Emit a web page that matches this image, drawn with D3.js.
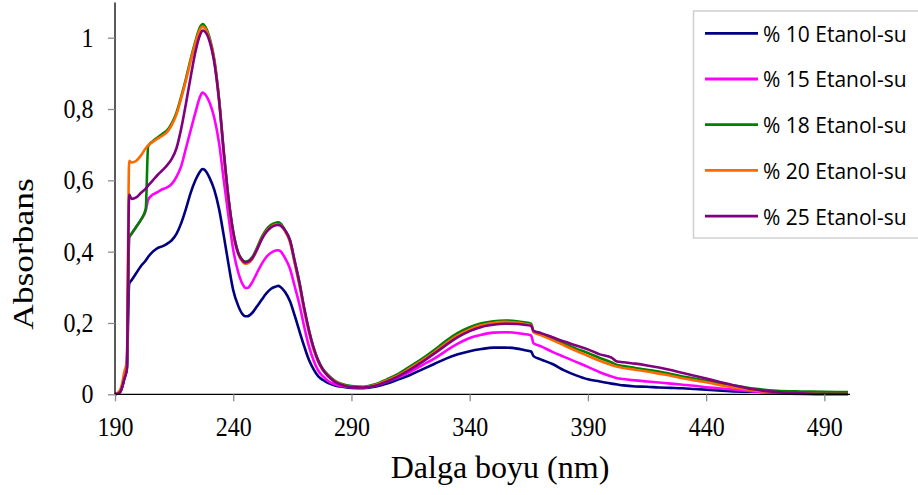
<!DOCTYPE html>
<html><head><meta charset="utf-8">
<script src="https://cdn.jsdelivr.net/npm/d3@7"></script>
<style>html,body{margin:0;padding:0;background:#fff;}svg{display:block;}</style>
</head><body>
<svg id="chart" width="918" height="495"></svg>
<script>
const wavelengths = [190,192,193,194,195,196,197,199,201,203,204,206,208,210,212,214,216,218,220,222,224,226,227,228,230,232,234,236,238,240,242,244,245,246,248,250,252,254,256,258,259,260,262,264,266,268,270,272,274,276,278,280,283,286,290,295,300,305,310,315,320,325,330,335,340,345,350,355,360,363,366,367,370,375,380,385,390,395,400,402,405,410,415,420,425,430,435,440,445,450,460,470,480,490,500];

const et10 = [0,0.005,0.02,0.045,0.07,0.31,0.32,0.34,0.36,0.375,0.385,0.40,0.41,0.415,0.422,0.432,0.45,0.48,0.52,0.565,0.60,0.625,0.632,0.629,0.607,0.573,0.52,0.445,0.365,0.292,0.25,0.224,0.219,0.219,0.228,0.246,0.265,0.283,0.296,0.302,0.304,0.301,0.286,0.261,0.221,0.177,0.135,0.097,0.07,0.05,0.04,0.032,0.025,0.021,0.018,0.017,0.021,0.030,0.042,0.055,0.07,0.085,0.10,0.112,0.121,0.127,0.131,0.131,0.128,0.124,0.12,0.107,0.098,0.085,0.067,0.053,0.042,0.036,0.03,0.028,0.025,0.022,0.021,0.019,0.018,0.017,0.015,0.013,0.011,0.009,0.007,0.006,0.005,0.005,0.005];

const et15 = [0,0.005,0.02,0.05,0.075,0.44,0.45,0.47,0.49,0.515,0.545,0.56,0.567,0.575,0.58,0.59,0.61,0.64,0.69,0.74,0.79,0.835,0.846,0.842,0.818,0.775,0.705,0.60,0.50,0.405,0.345,0.308,0.299,0.298,0.314,0.34,0.365,0.385,0.397,0.403,0.404,0.401,0.381,0.352,0.303,0.252,0.19,0.135,0.095,0.066,0.05,0.038,0.028,0.023,0.020,0.019,0.024,0.035,0.048,0.064,0.082,0.100,0.122,0.142,0.158,0.167,0.173,0.174,0.172,0.169,0.165,0.143,0.135,0.119,0.105,0.091,0.077,0.062,0.050,0.046,0.043,0.039,0.036,0.033,0.030,0.027,0.024,0.020,0.017,0.014,0.008,0.004,0.001,0,0];

const et18 = [0,0.005,0.02,0.05,0.075,0.44,0.45,0.47,0.49,0.52,0.695,0.71,0.72,0.73,0.74,0.76,0.79,0.835,0.885,0.94,0.99,1.03,1.038,1.033,1.00,0.94,0.83,0.68,0.55,0.455,0.40,0.376,0.372,0.373,0.384,0.41,0.44,0.462,0.475,0.481,0.482,0.479,0.459,0.432,0.372,0.315,0.24,0.18,0.13,0.095,0.07,0.055,0.038,0.029,0.023,0.021,0.028,0.042,0.058,0.079,0.10,0.124,0.150,0.172,0.188,0.199,0.205,0.207,0.205,0.202,0.198,0.177,0.170,0.157,0.142,0.128,0.116,0.102,0.089,0.083,0.079,0.074,0.069,0.064,0.057,0.050,0.044,0.038,0.032,0.027,0.016,0.010,0.008,0.007,0.006];

const et20 = [0,0.01,0.03,0.065,0.09,0.655,0.65,0.655,0.67,0.69,0.698,0.708,0.717,0.725,0.735,0.755,0.785,0.83,0.88,0.935,0.985,1.024,1.031,1.027,0.995,0.935,0.825,0.675,0.545,0.45,0.395,0.371,0.366,0.367,0.379,0.405,0.435,0.457,0.47,0.476,0.477,0.474,0.456,0.427,0.367,0.305,0.235,0.175,0.125,0.09,0.067,0.052,0.036,0.027,0.021,0.020,0.026,0.039,0.054,0.074,0.095,0.118,0.143,0.165,0.182,0.194,0.200,0.203,0.201,0.198,0.194,0.174,0.166,0.152,0.137,0.122,0.108,0.094,0.082,0.078,0.074,0.069,0.064,0.058,0.052,0.045,0.039,0.034,0.027,0.021,0.011,0.005,0.002,0.001,0.001];

const et25 = [0,0.005,0.02,0.045,0.07,0.56,0.548,0.552,0.565,0.577,0.585,0.60,0.615,0.628,0.642,0.66,0.69,0.745,0.815,0.89,0.96,1.008,1.02,1.017,0.99,0.93,0.825,0.68,0.55,0.455,0.398,0.375,0.37,0.371,0.381,0.405,0.434,0.455,0.468,0.474,0.475,0.473,0.459,0.432,0.374,0.312,0.243,0.18,0.13,0.093,0.068,0.052,0.035,0.026,0.020,0.019,0.024,0.036,0.051,0.07,0.091,0.114,0.138,0.16,0.177,0.189,0.195,0.198,0.197,0.195,0.192,0.178,0.172,0.16,0.148,0.137,0.126,0.112,0.103,0.093,0.09,0.086,0.081,0.075,0.068,0.060,0.052,0.044,0.036,0.028,0.014,0.006,0.003,0.001,0.001];

const seriesNames = ["% 10 Etanol-su","% 15 Etanol-su","% 18 Etanol-su","% 20 Etanol-su","% 25 Etanol-su"];
const seriesColors = ["#000080","#FF00FF","#008000","#FF6A00","#800080"];
const seriesValues = [et10, et15, et18, et20, et25];

const xTickValues = [190,240,290,340,390,440,490];
const yTickValues = [0,0.2,0.4,0.6,0.8,1];
const yTickLabels = ["0","0,2","0,4","0,6","0,8","1"];

(function(){
const svg = d3.select("#chart");
svg.append("rect").attr("width",918).attr("height",495).attr("fill","#fff");

const pLeft = 115, pRight = 848, pTop = 2.5, pBottom = 394.3;
const x = d3.scaleLinear().domain([190,500]).range([pLeft,pRight]);
const y = d3.scaleLinear().domain([0,1.1]).range([pBottom, pBottom - 1.1*356.6]);

const line = d3.line().x(d=>x(d[0])).y(d=>y(d[1])).curve(d3.curveMonotoneX);
seriesValues.forEach((vals,i)=>{
  const pts = wavelengths.map((w,j)=>[w, vals[j]]);
  svg.append("path").datum(pts).attr("d",line)
    .attr("fill","none").attr("stroke",seriesColors[i])
    .attr("stroke-width",2.6).attr("stroke-linejoin","round");
});

const xAxis = svg.append("g").attr("transform",`translate(0,${pBottom})`)
  .call(d3.axisBottom(x).tickValues(xTickValues).tickSize(7).tickSizeOuter(0).tickFormat(d3.format("d")));
xAxis.select(".domain").attr("stroke","#000").attr("stroke-width",1.3).attr("d",`M${pLeft},0H${pRight+2}`);
xAxis.selectAll(".tick line").attr("stroke","#8c8c8c").attr("stroke-width",1.3);
xAxis.selectAll(".tick text").attr("y",0).attr("dy",0)
  .attr("transform","translate(0,41.5) scale(1,1.17)")
  .attr("font-family","'Liberation Serif','Times New Roman',serif").attr("font-size",24).attr("fill","#000");

const yAxis = svg.append("g").attr("transform",`translate(${pLeft},0)`)
  .call(d3.axisLeft(y).tickValues(yTickValues).tickSize(7).tickSizeOuter(0).tickFormat((d,i)=>yTickLabels[i]));
yAxis.select(".domain").attr("stroke","#000").attr("stroke-width",1.3).attr("d",`M0,${pBottom}V${pTop}`);
yAxis.selectAll(".tick line").attr("stroke","#8c8c8c").attr("stroke-width",1.3);
yAxis.selectAll(".tick text").attr("x",0).attr("dy",0)
  .attr("transform","translate(-21.5,8.5) scale(1,1.17)")
  .attr("font-family","'Liberation Serif','Times New Roman',serif").attr("font-size",24).attr("fill","#000");

svg.append("text").attr("transform","translate(500,478)")
  .attr("text-anchor","middle").attr("font-family","'Liberation Serif','Times New Roman',serif")
  .attr("font-size",32).attr("fill","#000").text("Dalga boyu (nm)");
svg.append("text").attr("transform","translate(33.3,254) rotate(-90) scale(1.18,1)")
  .attr("text-anchor","middle").attr("font-family","'Liberation Serif','Times New Roman',serif")
  .attr("font-size",30).attr("fill","#000").text("Absorbans");

const lg = svg.append("g");
lg.append("rect").attr("x",693.5).attr("y",11).attr("width",240).attr("height",227)
  .attr("fill","#fff").attr("stroke","#d0d0d0").attr("stroke-width",1.5);
seriesNames.forEach((name,i)=>{
  const ly = 33.3 + i*45.7;
  lg.append("line").attr("x1",705).attr("x2",758).attr("y1",ly).attr("y2",ly)
    .attr("stroke",seriesColors[i]).attr("stroke-width",2.8);
  lg.append("text").attr("x",763).attr("y",ly+8.4)
    .attr("font-family","'Open Sans','Noto Sans',sans-serif").attr("font-size",21)
    .attr("fill","#000").text(name);
});
})();
</script>
</body></html>
